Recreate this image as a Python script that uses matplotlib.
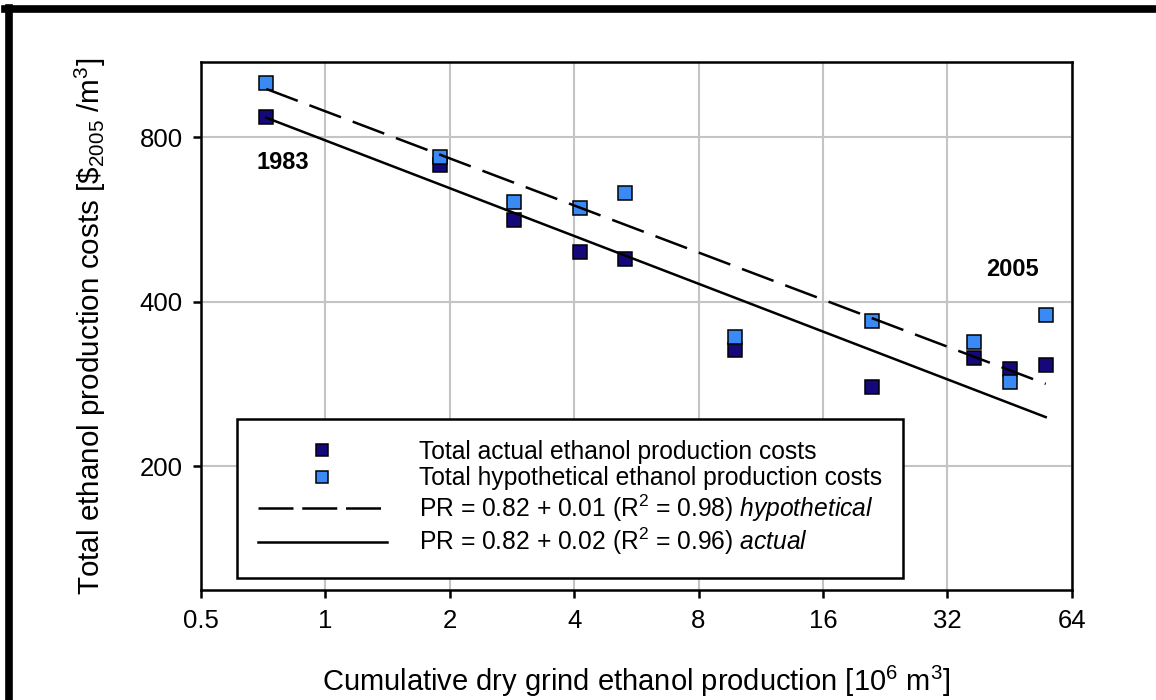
import numpy as np
import matplotlib
matplotlib.use("Agg")
import matplotlib.pyplot as plt
from matplotlib.lines import Line2D

plt.rcParams['font.family'] = ['Liberation Sans', 'DejaVu Sans']
plt.rcParams['mathtext.fontset'] = 'custom'
plt.rcParams['mathtext.rm'] = 'Liberation Sans'
plt.rcParams['mathtext.it'] = 'Liberation Sans:italic'
plt.rcParams['mathtext.bf'] = 'Liberation Sans:bold'

# cumulative dry grind production [10^6 m3]
production = [0.72, 1.90, 2.87, 4.14, 5.32, 9.81, 21.05, 37.1, 45.4, 55.3]
actual_costs = [873, 712, 564, 493, 479, 327, 279, 315, 301, 306]
hypothetical_costs = [1005, 737, 608, 593, 632, 345, 369, 337, 285, 378]

# experience curve fits (end points)
fit_x = [0.72, 55.3]
fit_actual = [869, 246]
fit_hypothetical = [981, 283]

x_ticks = [0.5, 1, 2, 4, 8, 16, 32, 64]
x_tick_labels = ['0.5', '1', '2', '4', '8', '16', '32', '64']
y_ticks = [200, 400, 800]
y_tick_labels = ['200', '400', '800']

DARK = '#14087a'
LIGHT = '#3a8af5'

fig = plt.figure(figsize=(11.56, 7), dpi=100)
ax = fig.add_axes([0.1736, 0.1571, 0.7537, 0.7547])

ax.set_xscale('log', base=2)
ax.set_yscale('log')
ax.set_xlim(0.5, 64)
ax.set_ylim(118.7, 1100)

ax.set_xticks(x_ticks)
ax.set_xticklabels(x_tick_labels)
ax.set_yticks(y_ticks)
ax.set_yticklabels(y_tick_labels)
ax.xaxis.set_minor_locator(matplotlib.ticker.NullLocator())
ax.yaxis.set_minor_locator(matplotlib.ticker.NullLocator())

ax.grid(True, color='#c4c4c4', linewidth=1.5)
ax.set_axisbelow(True)
for sp in ax.spines.values():
    sp.set_linewidth(1.8)
ax.tick_params(axis='both', direction='out', length=6, width=1.8,
               labelsize=18.5, colors='black')
ax.tick_params(axis='x', pad=8)
ax.tick_params(axis='y', pad=7)

ax.plot(production, actual_costs, 's', ms=10, mfc=DARK, mec='black',
        mew=1.1, zorder=3)
ax.plot(production, hypothetical_costs, 's', ms=10, mfc=LIGHT, mec='black',
        mew=1.1, zorder=4)
ax.plot(fit_x, fit_hypothetical, color='black', lw=1.8,
        linestyle=(0, (13.5, 5)), zorder=5)
ax.plot(fit_x, fit_actual, color='black', lw=1.8, zorder=5)

ax.text(0.79, 719, '1983', fontsize=17, fontweight='bold', ha='center',
        va='center')
ax.text(45.9, 458, '2005', fontsize=17, fontweight='bold', ha='center',
        va='center')

ax.set_xlabel(r'Cumulative dry grind ethanol production [10$^6$ m$^3$]',
              fontsize=21)
ax.set_ylabel(r'Total ethanol production costs [\$$_{2005}$ /m$^3$]',
              fontsize=21.3)
ax.xaxis.set_label_coords(0.5, -0.14)
ax.yaxis.set_label_coords(-0.106, 0.5)

handles = [
    Line2D([], [], marker='s', ls='none', ms=8, mfc=DARK, mec='black', mew=1.1),
    Line2D([], [], marker='s', ls='none', ms=8, mfc=LIGHT, mec='black', mew=1.1),
    Line2D([], [], color='black', lw=1.8, linestyle=(0, (14, 3.5))),
    Line2D([], [], color='black', lw=1.8),
]
labels = [
    'Total actual ethanol production costs',
    'Total hypothetical ethanol production costs',
    r'PR = 0.82 + 0.01 (R$^2$ = 0.98) $\mathit{hypothetical}$',
    r'PR = 0.82 + 0.02 (R$^2$ = 0.96) $\mathit{actual}$',
]
leg = ax.legend(handles, labels, loc='lower left',
                bbox_to_anchor=(0.0413, 0.0221, 0.765, 0.3), mode='expand',
                borderaxespad=0, fontsize=17.7, handlelength=5.25,
                handletextpad=1.3, labelspacing=0.09, borderpad=0.85,
                fancybox=False, framealpha=1, edgecolor='black')
leg.get_frame().set_linewidth(1.8)

# thick frame around the figure (top and left edges)
fig.add_artist(Line2D([0.0078, 0.0078], [0, 0.988], color='black', lw=5.5,
                      transform=fig.transFigure))
fig.add_artist(Line2D([0.004, 1], [0.9878, 0.9878], color='black', lw=5.5,
                      transform=fig.transFigure))

fig.savefig('out.png', dpi=100)
